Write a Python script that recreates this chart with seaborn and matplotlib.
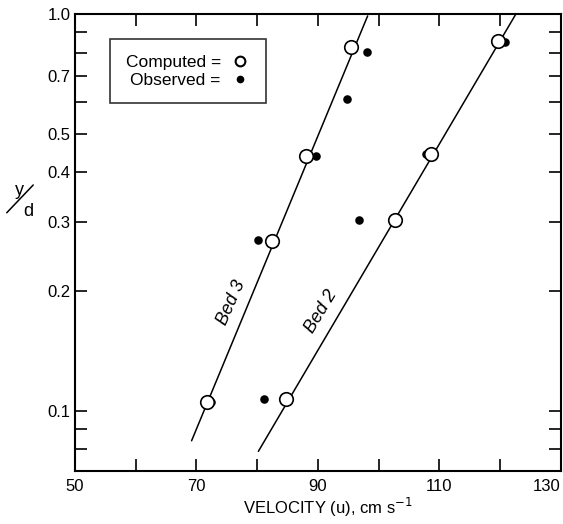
import matplotlib
matplotlib.use("Agg")
import matplotlib.pyplot as plt
from matplotlib.lines import Line2D
import seaborn as sns
import pandas as pd

# ---- data ----
bed3_comp_u = [71.8, 82.5, 88.1, 95.5]
bed3_comp_y = [0.105, 0.268, 0.44, 0.826]
bed3_obs_u = [72.4, 80.1, 89.7, 94.8, 98.1]
bed3_obs_y = [0.105, 0.27, 0.44, 0.612, 0.805]
bed2_comp_u = [84.8, 102.7, 108.6, 119.6]
bed2_comp_y = [0.107, 0.302, 0.443, 0.855]
bed2_obs_u = [81.1, 96.8, 107.8, 120.9]
bed2_obs_y = [0.107, 0.303, 0.445, 0.85]
bed3_line_u = [69.2, 98.2]
bed3_line_y = [0.084, 0.99]
bed2_line_u = [80.2, 122.6]
bed2_line_y = [0.079, 1.0]

x_major = [50, 70, 90, 110, 130]
x_minor = [60, 80, 100, 120]
y_labeled = [0.1, 0.2, 0.3, 0.4, 0.5, 0.7, 1.0]
y_labels = ["0.1", "0.2", "0.3", "0.4", "0.5", "0.7", "1.0"]
y_all_ticks = [0.08, 0.09, 0.1, 0.2, 0.3, 0.4, 0.5, 0.6, 0.7, 0.8, 0.9]

sns.set_style("ticks")
plt.rcParams["font.family"] = ["Liberation Sans", "DejaVu Sans"]
plt.rcParams.update({
    "axes.edgecolor": "black", "xtick.color": "black", "ytick.color": "black",
    "text.color": "black", "axes.labelcolor": "black",
})

fig = plt.figure(figsize=(5.63, 5.24), dpi=100)
ax = fig.add_axes([0.1332, 0.1017, 0.996 - 0.1332, 0.973 - 0.1017])

comp = pd.DataFrame({"u": bed3_comp_u + bed2_comp_u, "y": bed3_comp_y + bed2_comp_y})
obs = pd.DataFrame({"u": bed3_obs_u + bed2_obs_u, "y": bed3_obs_y + bed2_obs_y})
l3 = pd.DataFrame({"u": bed3_line_u, "y": bed3_line_y})
l2 = pd.DataFrame({"u": bed2_line_u, "y": bed2_line_y})

sns.lineplot(data=l3, x="u", y="y", ax=ax, color="black", linewidth=1.1, sort=False)
sns.lineplot(data=l2, x="u", y="y", ax=ax, color="black", linewidth=1.1, sort=False)
sns.scatterplot(data=obs, x="u", y="y", ax=ax, color="black", s=38, linewidth=0, zorder=3)
sns.scatterplot(data=comp, x="u", y="y", ax=ax, facecolor="white", edgecolor="black",
                s=95, linewidth=1.2, zorder=4)

ax.set_yscale("log")
ax.set_xlim(50, 130)
ax.set_ylim(0.0706, 1.0)

ax.set_xticks(x_major)
ax.set_xticklabels([str(v) for v in x_major])
ax.set_xticks(x_minor, minor=True)
ax.set_yticks(y_labeled)
ax.set_yticklabels(y_labels)
ax.set_yticks([v for v in y_all_ticks if v not in y_labeled], minor=True)
ax.yaxis.set_minor_formatter(matplotlib.ticker.NullFormatter())

ax.tick_params(axis="both", which="both", direction="in", length=8.5, width=1.2,
               top=True, right=True, labelsize=12, pad=4)
ax.tick_params(axis="x", which="major", pad=6)
ax.tick_params(axis="y", which="major", pad=3)
for s in ax.spines.values():
    s.set_linewidth(1.5)
    s.set_visible(True)
ax.get_xticklabels()[-1].set_ha("right")

ax.set_xlabel("VELOCITY (u), cm s$^{-1}$", fontsize=12)
ax.xaxis.set_label_coords(0.52, -0.055)
ax.set_ylabel("")

# y/d label
fig.text(0.034, 0.637, "y", fontsize=13, ha="center", va="center")
fig.text(0.051, 0.597, "d", fontsize=13, ha="center", va="center")
fig.add_artist(Line2D([0.012, 0.059], [0.594, 0.647], transform=fig.transFigure,
                      color="black", linewidth=1.1))

# Bed labels
ax.text(75.7, 0.1875, "Bed 3", rotation=66, fontsize=13, style="italic",
        ha="center", va="center", rotation_mode="anchor")
ax.text(90.5, 0.178, "Bed 2", rotation=59, fontsize=13, style="italic",
        ha="center", va="center", rotation_mode="anchor")

handles = [
    Line2D([], [], linestyle="none", marker="o", markerfacecolor="white",
           markeredgecolor="black", markersize=7, markeredgewidth=1.5),
    Line2D([], [], linestyle="none", marker="o", color="black", markersize=4.5),
]
leg = ax.legend(handles, ["Computed =", "Observed ="], markerfirst=False,
                loc="upper left", bbox_to_anchor=(0.072, 0.945), frameon=True,
                fancybox=False, edgecolor="black", fontsize=12.5, handlelength=1.2,
                handletextpad=0.5, borderpad=0.9, labelspacing=0.15, borderaxespad=0)
leg.get_frame().set_linewidth(1.2)
for t in leg.get_texts():
    t.set_ha("right")

fig.savefig("out.png", dpi=100)
